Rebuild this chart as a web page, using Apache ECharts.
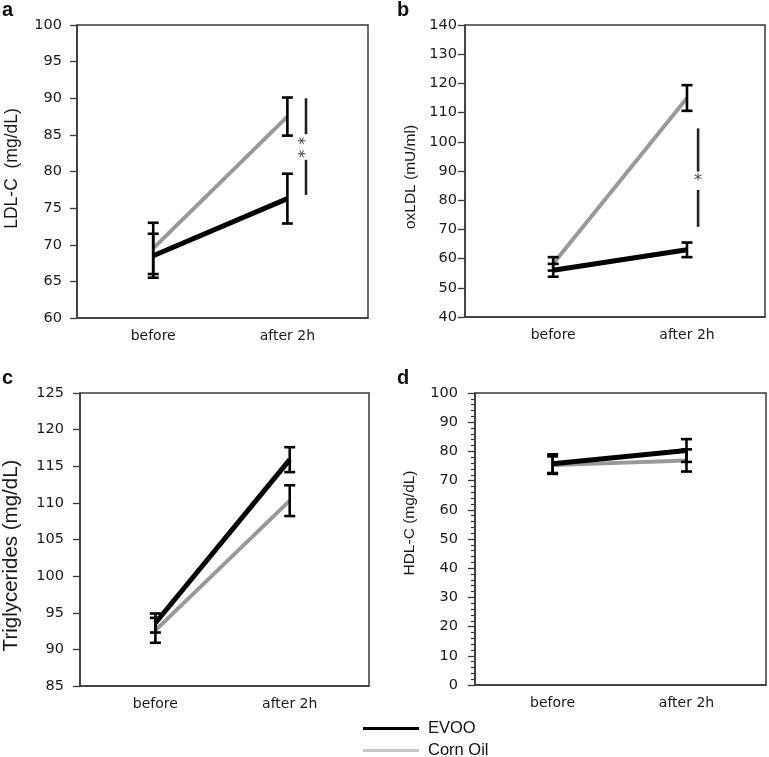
<!DOCTYPE html>
<html><head><meta charset="utf-8">
<script src="https://cdn.jsdelivr.net/npm/echarts@6/dist/echarts.min.js"></script>
<style>html,body{margin:0;padding:0;background:#fff}#c{width:769px;height:757px}</style>
</head><body><div id="c"></div>
<script>
// ---------- data ----------
const categories = ['before', 'after 2h'];
const seriesNames = ['EVOO', 'Corn Oil'];

const ldlEvoo = [68.5, 76.3];
const ldlEvooErr = [3.0, 3.4];
const ldlCorn = [69.5, 87.5];
const ldlCornErr = [3.5, 2.6];

const oxEvoo = [56.0, 63.0];
const oxEvooErr = [2.2, 2.5];
const oxCorn = [58.2, 115.0];
const oxCornErr = [2.3, 4.4];

const tgEvoo = [93.6, 115.9];
const tgEvooErr = [1.3, 1.7];
const tgCorn = [92.6, 110.3];
const tgCornErr = [1.7, 2.1];

const hdlEvoo = [75.8, 80.3];
const hdlEvooErr = [3.2, 3.9];
const hdlCorn = [75.3, 76.9];
const hdlCornErr = [3.0, 3.8];

// significance brackets (value ranges of the line pieces) and star labels
const ldlSigSegments = [[90.0, 85.1], [81.6, 76.8]];
const ldlSigStar = ['* *', 83.3];
const oxSigSegments = [[104.6, 89.8], [83.5, 70.9]];
const oxSigStar = ['*', 86.8];

const panelNames = ['LDL-C  (mg/dL)', 'oxLDL (mU/ml)', 'Triglycerides (mg/dL)', 'HDL-C (mg/dL)'];
const panelLetters = ['a', 'b', 'c', 'd'];

// ---------- layout ----------
const panels = [
  {grid:{left:77, top:25, width:291, height:293}, xMin:-0.568, xMax:1.601, yMin:60, yMax:100, yInt:5,
   nameSize:17.5, nameGap:56, namePad:[0,0,0,6], labelMargin:15, evoo:ldlEvoo, evooErr:ldlEvooErr, corn:ldlCorn, cornErr:ldlCornErr,
   sig:{x:1.139, segs:ldlSigSegments, star:ldlSigStar, rot:true}},
  {grid:{left:465, top:25, width:300, height:292}, xMin:-0.659, xMax:1.583, yMin:40, yMax:140, yInt:10,
   nameSize:15.5, nameGap:46, namePad:[0,12,0,0], labelMargin:8, evoo:oxEvoo, evooErr:oxEvooErr, corn:oxCorn, cornErr:oxCornErr,
   sig:{x:1.083, segs:oxSigSegments, star:oxSigStar, rot:false}},
  {grid:{left:77, top:393, width:292, height:293}, xMin:-0.561, xMax:1.590, yMin:85, yMax:125, yInt:5,
   nameSize:20.5, nameGap:58, namePad:[0,32,0,0], labelMargin:16, evoo:tgEvoo, evooErr:tgEvooErr, corn:tgCorn, cornErr:tgCornErr},
  {grid:{left:475, top:393, width:291, height:292}, xMin:-0.580, xMax:1.594, yMin:0, yMax:100, yInt:10,
   nameSize:15.5, nameGap:57, namePad:[0,0,0,32], labelMargin:17, minor:true, evoo:hdlEvoo, evooErr:hdlEvooErr, corn:hdlCorn, cornErr:hdlCornErr}
];

const FONT = 'DejaVu Sans';
const NAMEFONT = 'Liberation Sans';

function errRender(params, api) {
  const x = api.value(0), lo = api.value(1), hi = api.value(2);
  const a = api.coord([x, lo]), b = api.coord([x, hi]);
  const w = 5.5;
  const st = {stroke:'#000', lineWidth:2.6};
  return {type:'group', children:[
    {type:'line', shape:{x1:a[0], y1:a[1], x2:b[0], y2:b[1]}, style:st},
    {type:'line', shape:{x1:a[0]-w, y1:a[1], x2:a[0]+w, y2:a[1]}, style:st},
    {type:'line', shape:{x1:b[0]-w, y1:b[1], x2:b[0]+w, y2:b[1]}, style:st}
  ]};
}
function segRender(params, api) {
  const a = api.coord([api.value(0), api.value(1)]);
  const b = api.coord([api.value(0), api.value(2)]);
  return {type:'line', shape:{x1:a[0], y1:a[1], x2:b[0], y2:b[1]}, style:{stroke:'#222', lineWidth:2.6}};
}

const grids = [], xAxes = [], yAxes = [], series = [], titles = [];
panels.forEach((p, i) => {
  grids.push(Object.assign({show:true, borderColor:'#3a3a3a', borderWidth:1.5, backgroundColor:'transparent'}, p.grid));
  xAxes.push({type:'value', gridIndex:i, min:p.xMin, max:p.xMax,
    axisLine:{show:true, onZero:false, lineStyle:{color:'#3a3a3a', width:1.5}}, axisTick:{show:false}, splitLine:{show:false},
    axisLabel:{customValues:[0,1], formatter:v => categories[Math.round(v)], fontSize:14, fontFamily:FONT, color:'#1a1a1a', margin:11}});
  yAxes.push({type:'value', gridIndex:i, min:p.yMin, max:p.yMax, interval:p.yInt,
    name:panelNames[i], nameLocation:'middle', nameRotate:90, nameGap:p.nameGap,
    nameTextStyle:{fontSize:p.nameSize, fontFamily:NAMEFONT, color:'#1a1a1a', padding:p.namePad},
    axisLine:{show:true, onZero:false, lineStyle:{color:'#3a3a3a', width:1.5}},
    axisTick:{show:true, inside:false, length:7, lineStyle:{color:'#3a3a3a', width:1.3}},
    minorTick:{show:!!p.minor, splitNumber:5, length:4, lineStyle:{color:'#3a3a3a', width:1.2}},
    splitLine:{show:false},
    axisLabel:{fontSize:14.5, fontFamily:FONT, color:'#1a1a1a', margin:p.labelMargin}});
  const idx = {xAxisIndex:i, yAxisIndex:i};
  series.push(Object.assign({type:'line', name:seriesNames[1], data:p.corn.map((v,k)=>[k,v]), symbol:'none', z:2,
    lineStyle:{color:'#999', width:4}, itemStyle:{color:'#999'}, animation:false}, idx));
  series.push(Object.assign({type:'line', name:seriesNames[0], data:p.evoo.map((v,k)=>[k,v]), symbol:'none', z:3,
    lineStyle:{color:'#000', width:5}, itemStyle:{color:'#000'}, animation:false}, idx));
  series.push(Object.assign({type:'custom', name:'err-corn-'+i, renderItem:errRender, z:4, animation:false,
    encode:{x:0, y:[1,2]}, data:p.corn.map((v,k)=>[k, v-p.cornErr[k], v+p.cornErr[k]])}, idx));
  series.push(Object.assign({type:'custom', name:'err-evoo-'+i, renderItem:errRender, z:4, animation:false,
    encode:{x:0, y:[1,2]}, data:p.evoo.map((v,k)=>[k, v-p.evooErr[k], v+p.evooErr[k]])}, idx));
  if (p.sig) {
    series.push(Object.assign({type:'custom', name:'sig-'+i, renderItem:segRender, z:4, animation:false,
      encode:{x:0, y:[1,2]}, data:p.sig.segs.map(s => [p.sig.x, s[0], s[1]])}, idx));
    const rot = p.sig.rot;
    series.push(Object.assign({type:'custom', name:'star-'+i, z:4, animation:false,
      encode:{x:0, y:1}, data:[[p.sig.x, p.sig.star[1]]],
      renderItem:(params, api) => {
        const c = api.coord([api.value(0), api.value(1)]);
        return {type:'text', x:c[0], y:c[1], rotation: rot ? Math.PI/2 : 0,
          style:{text:p.sig.star[0], fill:'#444', font:'16px ' + FONT, textAlign:'center', textVerticalAlign:'middle'}};
      }}, idx));
  }
  titles.push({text:panelLetters[i], left: i % 2 === 0 ? 2 : 397, top: i < 2 ? 0 : 368, padding:0,
    textStyle:{fontSize:20, fontWeight:'bold', fontFamily:NAMEFONT, color:'#111'}});
});

const legendBase = {left:363, orient:'vertical', icon:'rect', itemWidth:56, itemHeight:3, selectedMode:false, padding:0,
  textStyle:{fontSize:16.5, fontFamily:NAMEFONT, color:'#111', padding:[0,0,0,4]}};

const chart = echarts.init(document.getElementById('c'), null, {renderer:'canvas'});
chart.setOption({
  animation:false,
  backgroundColor:'#fff',
  title:titles,
  grid:grids, xAxis:xAxes, yAxis:yAxes, series:series,
  legend:[
    Object.assign({top:720, data:[{name:seriesNames[0], itemStyle:{color:'#000'}}]}, legendBase),
    Object.assign({top:742, data:[{name:seriesNames[1], itemStyle:{color:'#c8c8c8'}}]}, legendBase)
  ]
});
</script></body></html>
